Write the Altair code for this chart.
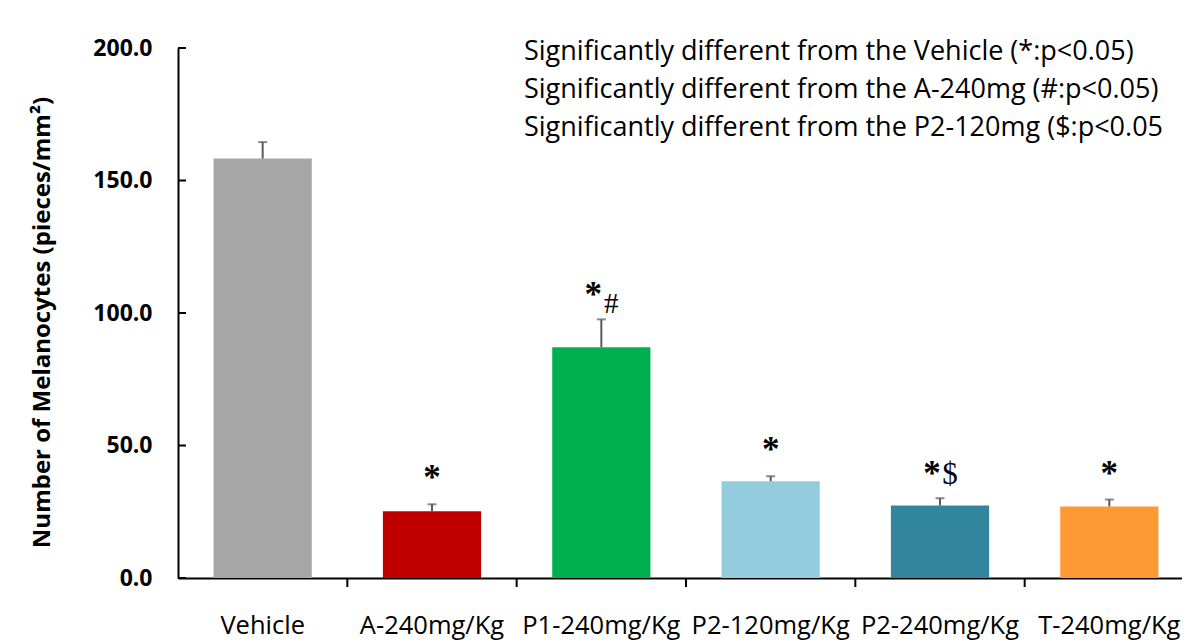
import altair as alt
import pandas as pd

categories = ["Vehicle", "A-240mg/Kg", "P1-240mg/Kg", "P2-120mg/Kg", "P2-240mg/Kg", "T-240mg/Kg"]
means = [158.3, 25.2, 87.1, 36.5, 27.4, 27.0]
errors = [6.2, 2.6, 10.5, 1.9, 2.7, 2.6]
colors = ["#A6A6A6", "#C00000", "#00B050", "#93CDDD", "#31859C", "#FF9933"]
single_star_groups = ["A-240mg/Kg", "P2-120mg/Kg", "T-240mg/Kg"]
paired_star_groups = ["P1-240mg/Kg", "P2-240mg/Kg"]
hash_groups = ["P1-240mg/Kg"]
dollar_groups = ["P2-240mg/Kg"]
y_ticks = [0, 50, 100, 150, 200]
tick_groups = categories[1:]
legend_lines = [
    "Significantly different from the Vehicle (*:p<0.05)",
    "Significantly different from the A-240mg (#:p<0.05)",
    "Significantly different from the P2-120mg ($:p<0.05",
]

df = pd.DataFrame({"group": categories, "mean": means, "err": errors})
df["upper"] = df["mean"] + df["err"]

W, H = 1000, 530
XR = 1016
STEP = XR / 6.0
FONT = "Open Sans"
SERIF = "Liberation Serif"

xscale = alt.Scale(domain=categories, paddingInner=0.42, paddingOuter=0.21, range=[0, XR])
x_main = alt.X(
    "group:N", sort=categories, scale=xscale,
    axis=alt.Axis(title=None, labelFont=FONT, labelFontSize=25.5, labelColor="black",
                  ticks=False, domainColor="black", domainWidth=2, labelPadding=35,
                  labelAngle=0, labelOverlap=False),
)
x_plain = alt.X("group:N", sort=categories, scale=xscale, title=None)
yscale = alt.Scale(domain=[0, 200], nice=False)
y_main = alt.Y(
    "mean:Q", scale=yscale,
    axis=alt.Axis(values=y_ticks, format=".1f", title="Number of Melanocytes (pieces/mm\u00b2)",
                  titleFont=FONT, titleFontSize=24, titleFontWeight="bold", titleColor="black",
                  titlePadding=38, titleY=274, labelFont=FONT, labelFontSize=23,
                  labelFontWeight="bold", labelColor="black", ticks=False, labelPadding=26,
                  grid=False, domainColor="black", domainWidth=2),
)

base = alt.Chart(df)

bars = base.mark_bar().encode(
    x=x_main, y=y_main,
    color=alt.Color("group:N", scale=alt.Scale(domain=categories, range=colors), legend=None),
)
err_line = base.mark_rule(color="#595959", strokeWidth=2).encode(
    x=x_plain, y=alt.Y("mean:Q", scale=yscale), y2="upper:Q"
)
err_cap = base.mark_tick(color="#595959", thickness=2, size=9).encode(
    x=x_plain, y=alt.Y("upper:Q", scale=yscale)
)

def sym_layer(groups, text, size, dx, dy, weight="normal"):
    return base.transform_filter(alt.FieldOneOfPredicate(field="group", oneOf=groups)).mark_text(
        font=SERIF, fontSize=size, fontWeight=weight, baseline="middle", align="center",
        dx=dx, dy=dy, color="black"
    ).encode(x=x_plain, y=alt.Y("upper:Q", scale=yscale), text=alt.value(text))

stars1 = sym_layer(single_star_groups, "*", 35, 0, -26, "bold")
stars2 = sym_layer(paired_star_groups, "*", 35, -8, -24, "bold")
hashes = sym_layer(hash_groups, "#", 29, 10, -15)
dollars = sym_layer(dollar_groups, "$", 31, 10, -23)

y_tick_rules = alt.Chart(pd.DataFrame({"t": y_ticks})).mark_rule(color="black", strokeWidth=2).encode(
    y=alt.Y("t:Q", scale=yscale), x=alt.value(0), x2=alt.value(8)
)
x_tick_rules = base.transform_filter(
    alt.FieldOneOfPredicate(field="group", oneOf=tick_groups)
).mark_rule(color="black", strokeWidth=2, xOffset=-0.21 * STEP).encode(
    x=alt.X("group:N", sort=categories, scale=xscale, bandPosition=0, title=None),
    y=alt.value(H), y2=alt.value(H + 9),
)

legend = alt.Chart(pd.DataFrame({"k": [0]})).mark_text(
    align="left", baseline="top", font=FONT, fontSize=27, lineHeight=38, color="black"
).encode(x=alt.value(346), y=alt.value(-9), text=alt.value(legend_lines))

chart = alt.layer(
    bars, err_line, err_cap, stars1, stars2, hashes, dollars, y_tick_rules, x_tick_rules, legend
).properties(
    width=W, height=H,
    autosize=alt.AutoSizeParams(type="none"),
    padding={"left": 170, "top": 40, "right": 4, "bottom": 64},
).configure_view(stroke=None)

chart.save("out.html", embed_options={"renderer": "svg", "actions": False})
